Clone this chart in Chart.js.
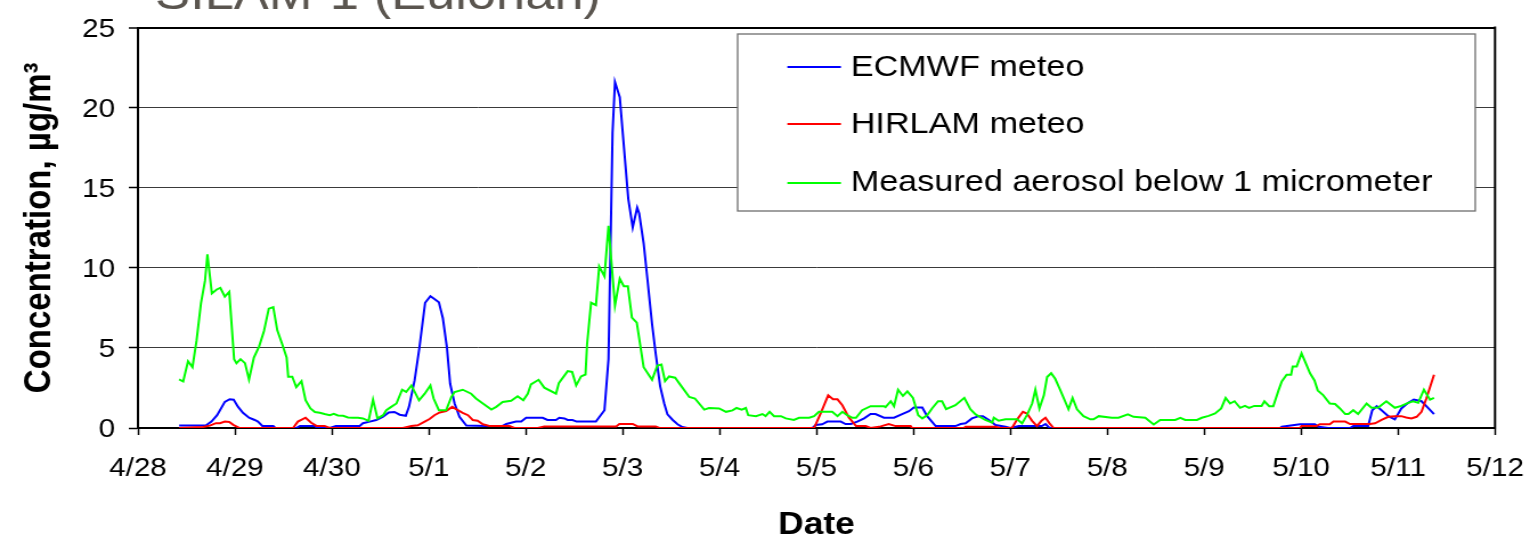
<!DOCTYPE html>
<html><head><meta charset="utf-8">
<script src="https://cdn.jsdelivr.net/npm/chart.js@4.4.1/dist/chart.umd.min.js"></script>
<style>
html,body{margin:0;padding:0;background:#fff;overflow:hidden}
#c{display:block;width:1530px !important;height:541px !important}
</style>
</head><body>
<canvas id="c" width="1342" height="541" style="width:1530px;height:541px"></canvas>
<script>
// ---- data (x = hours since 4/28 00:00, y = concentration µg/m3) ----
const dateLabels = ['4/28','4/29','4/30','5/1','5/2','5/3','5/4','5/5','5/6','5/7','5/8','5/9','5/10','5/11','5/12'];
const yTickValues = [0,5,10,15,20,25];
const seriesNames = ['ECMWF meteo','HIRLAM meteo','Measured aerosol below 1 micrometer'];
const chartTitle = 'SILAM-1 (Eulohan)';

const ecmwf = [[10.2,0.15],[16.8,0.15],[18.2,0.4],[19.6,0.8],[21.5,1.63],[22.7,1.8],[23.7,1.77],[24.8,1.32],[26.0,0.95],[27.5,0.64],[28.9,0.5],[29.7,0.4],[30.8,0.13],[33.5,0.13],[34.0,0],[39.2,0],[40.1,0.13],[43.8,0.13],[44.3,0],[47.5,0],[49.0,0.13],[54.9,0.13],[55.7,0.3],[57.4,0.4],[59.0,0.5],[60.7,0.7],[62.1,0.97],[63.5,1.0],[64.8,0.83],[66.3,0.76],[67.1,1.32],[68.5,2.97],[69.7,5.03],[71.1,7.82],[72.4,8.23],[73.4,8.06],[74.5,7.85],[75.5,6.85],[76.5,5.03],[77.3,2.76],[78.4,1.53],[79.6,0.7],[81.3,0.15],[86.2,0.13],[90.3,0.13],[91.2,0.25],[93.6,0.4],[94.9,0.4],[96.1,0.64],[100.2,0.64],[101.4,0.5],[103.5,0.5],[104.3,0.64],[105.6,0.6],[106.4,0.5],[107.6,0.5],[108.6,0.4],[113.4,0.4],[115.5,1.11],[116.5,4.31],[117.5,18.44],[118.1,21.6],[119.3,20.65],[120.2,17.93],[121.4,14.31],[122.5,12.52],[123.6,13.76],[124.1,13.39],[125.2,11.53],[126.2,9.16],[127.3,6.48],[128.2,4.62],[129.3,2.6],[130.3,1.53],[131.1,0.85],[132.4,0.5],[133.6,0.23],[134.8,0.06],[136.0,0],[167.0,0],[167.8,0.19],[169.4,0.23],[170.7,0.4],[174.0,0.4],[175.2,0.25],[176.5,0.25],[178.1,0.4],[179.8,0.6],[181.4,0.87],[182.6,0.87],[184.7,0.64],[187.2,0.64],[189.2,0.87],[190.9,1.05],[192.1,1.28],[194.2,1.28],[195.4,0.74],[197.5,0.12],[202.4,0.12],[203.7,0.25],[204.9,0.29],[206.5,0.6],[208.2,0.74],[209.2,0.74],[210.7,0.5],[212.3,0.19],[214.8,0.08],[216.0,0],[218.1,0.12],[223.8,0.12],[224.7,0.25],[225.7,0],[282.8,0],[283.2,0.08],[287.7,0.23],[291.4,0.23],[292.3,0.08],[294.7,0],[300.1,0],[300.9,0.12],[304.6,0.12],[305.6,1.11],[306.7,1.36],[307.9,1.11],[309.6,0.74],[311.2,0.54],[312.8,1.22],[314.5,1.57],[315.9,1.77],[317.8,1.67],[319.0,1.36],[320.9,0.87]];

const hirlam = [[10.2,0],[16.1,0.06],[17.8,0.15],[19.3,0.3],[20.3,0.3],[21.5,0.4],[22.6,0.38],[23.6,0.2],[25.2,0],[38.4,0],[39.6,0.4],[41.5,0.64],[42.9,0.33],[44.2,0.13],[46.2,0.13],[47.5,0],[65.6,0],[67.7,0.13],[69.3,0.17],[71.0,0.4],[72.2,0.56],[73.4,0.8],[74.7,0.97],[76.3,1.05],[77.8,1.32],[79.2,1.11],[80.4,0.95],[81.7,0.8],[82.9,0.5],[84.1,0.45],[85.4,0.23],[87.0,0.13],[92.0,0.13],[93.2,0],[99.0,0],[100.6,0.1],[118.4,0.1],[119.2,0.25],[122.5,0.25],[123.7,0.1],[128.2,0.1],[129.1,0],[167.4,0],[169.0,0.9],[170.9,2.04],[172.1,1.79],[173.2,1.79],[174.4,1.42],[176.0,0.66],[177.8,0.12],[180.2,0.12],[181.4,0],[183.9,0.1],[185.9,0.25],[187.6,0.12],[191.3,0.12],[191.7,0],[204.5,0],[204.9,0.08],[212.3,0.08],[213.5,0],[216.4,0],[217.7,0.54],[219.1,1.01],[220.1,0.9],[221.4,0.45],[222.6,0.12],[223.7,0.45],[224.7,0.64],[225.7,0.29],[226.7,0],[287.7,0],[288.1,0.12],[291.7,0.12],[292.6,0.23],[295.1,0.23],[296.0,0.4],[298.9,0.4],[300.1,0.25],[305.0,0.25],[306.3,0.29],[307.9,0.5],[309.6,0.7],[311.2,0.74],[312.8,0.74],[314.0,0.66],[315.3,0.6],[316.6,0.7],[317.8,1.01],[319.0,1.84],[320.9,3.32]];

const measured = [[10.2,3.03],[11.2,2.9],[12.4,4.17],[13.5,3.8],[14.5,5.45],[15.6,7.8],[16.6,9.2],[17.2,10.85],[18.3,8.4],[19.5,8.65],[20.4,8.75],[21.5,8.2],[22.6,8.5],[23.8,4.3],[24.4,4.05],[25.4,4.3],[26.5,4.05],[27.5,3.03],[28.7,4.4],[30.0,5.1],[31.2,6.06],[32.4,7.45],[33.5,7.55],[34.5,6.1],[35.7,5.24],[36.8,4.4],[37.2,3.2],[38.2,3.2],[39.2,2.55],[40.5,2.93],[41.5,1.73],[42.7,1.22],[43.8,1.0],[45.0,0.95],[46.2,0.87],[47.5,0.8],[48.5,0.88],[49.5,0.78],[50.8,0.76],[52.0,0.66],[53.2,0.64],[54.5,0.64],[55.7,0.6],[57.1,0.45],[58.2,1.77],[59.3,0.6],[60.7,0.8],[61.5,1.11],[62.7,1.32],[64.0,1.53],[65.4,2.39],[66.4,2.25],[67.7,2.66],[69.6,1.73],[71.0,2.14],[72.4,2.66],[73.2,1.84],[74.5,1.11],[76.3,1.11],[77.6,1.94],[78.4,2.25],[80.4,2.39],[82.5,2.14],[83.7,1.84],[85.4,1.53],[87.5,1.15],[88.7,1.32],[90.3,1.63],[92.4,1.7],[94.0,1.98],[95.4,1.73],[96.5,2.14],[97.3,2.72],[99.2,3.01],[100.6,2.52],[103.5,2.14],[104.2,2.8],[106.4,3.55],[107.5,3.5],[108.5,2.66],[109.7,3.22],[110.8,3.34],[111.2,5.24],[112.2,7.82],[113.4,7.67],[114.2,10.09],[115.5,9.47],[116.5,12.62],[118.1,7.65],[119.3,9.32],[120.3,8.85],[121.3,8.85],[122.3,6.89],[123.5,6.58],[125.2,3.8],[127.3,3.01],[128.6,3.9],[129.6,3.96],[130.5,2.93],[131.5,3.22],[133.0,3.14],[134.4,2.66],[136.5,1.94],[137.9,1.84],[140.2,1.15],[141.4,1.25],[143.9,1.22],[145.6,1.01],[147.2,1.1],[148.2,1.25],[149.5,1.15],[150.5,1.25],[151.1,0.8],[153.0,0.74],[154.6,0.87],[155.4,0.74],[156.4,1.01],[157.5,0.74],[159.2,0.74],[160.4,0.6],[162.4,0.5],[163.7,0.64],[166.2,0.64],[167.4,0.74],[168.6,1.01],[171.9,1.01],[173.2,0.74],[174.4,1.01],[175.6,0.8],[176.9,0.64],[177.8,0.64],[179.3,1.11],[181.4,1.36],[184.7,1.36],[185.1,1.3],[186.4,1.67],[187.2,1.36],[188.2,2.39],[189.4,2.0],[190.5,2.29],[191.9,1.88],[193.2,0.8],[194.2,0.6],[195.4,0.8],[196.6,1.22],[198.1,1.67],[199.1,1.67],[200.1,1.17],[202.4,1.42],[204.6,1.88],[206.1,1.17],[207.4,0.85],[209.8,0.5],[211.5,0.33],[211.9,0.64],[213.1,0.45],[214.8,0.54],[217.7,0.54],[218.9,0.29],[220.1,0.8],[221.4,1.53],[222.2,2.39],[223.2,1.22],[224.3,2.04],[225.1,3.18],[226.1,3.42],[227.1,3.07],[228.4,2.35],[230.4,1.17],[231.4,1.88],[232.5,1.17],[234.1,0.74],[235.8,0.54],[236.6,0.54],[237.9,0.74],[241.1,0.64],[242.8,0.64],[245.1,0.85],[246.5,0.7],[249.4,0.64],[251.5,0.22],[253.1,0.5],[256.8,0.5],[258.1,0.64],[259.3,0.5],[262.2,0.5],[263.4,0.64],[265.1,0.76],[266.7,0.91],[268.2,1.22],[269.3,1.88],[270.4,1.53],[271.5,1.67],[272.9,1.26],[274.1,1.38],[275.1,1.26],[276.4,1.38],[278.2,1.38],[278.9,1.67],[280.1,1.36],[281.1,1.36],[282.4,2.35],[283.2,2.91],[284.4,3.32],[285.5,3.32],[285.9,3.84],[286.9,3.84],[288.1,4.66],[289.4,3.9],[290.2,3.42],[291.3,2.97],[292.1,2.35],[293.5,2.04],[295.1,1.53],[296.4,1.5],[297.6,1.22],[298.9,0.87],[299.7,0.87],[300.9,1.11],[302.1,0.87],[304.2,1.53],[305.4,1.26],[307.1,1.28],[309.1,1.67],[311.2,1.26],[312.8,1.38],[314.5,1.57],[315.7,1.67],[317.0,1.57],[318.4,2.39],[319.9,1.77],[320.9,1.88]];

// ---- chart ----
const FONT = "'Liberation Sans', Arial, sans-serif";
const seriesColors = ['#0000ff', '#ff0000', '#00ff00'];
const toXY = a => a.map(p => ({x: p[0], y: p[1]}));

const framePlugin = {
  id: 'frame',
  afterDraw(chart) {
    const ctx = chart.ctx, a = chart.chartArea;
    ctx.save();
    // right border of plot area
    ctx.strokeStyle = '#000'; ctx.lineWidth = 2;
    ctx.beginPath(); ctx.moveTo(a.right, a.top - 1); ctx.lineTo(a.right, a.bottom + 1); ctx.stroke();
    // legend box
    const lx = 647, ly = 34, lw = 647, lh = 177;
    ctx.fillStyle = '#fff'; ctx.fillRect(lx, ly, lw, lh);
    ctx.strokeStyle = '#6e6e6e'; ctx.lineWidth = 1.3; ctx.strokeRect(lx, ly, lw, lh);
    const rowsLine = [67, 124, 183], rowsText = [75.7, 133, 191.3];
    ctx.font = '30px ' + FONT; ctx.textBaseline = 'alphabetic'; ctx.textAlign = 'left';
    seriesNames.forEach((n, i) => {
      ctx.strokeStyle = seriesColors[i]; ctx.lineWidth = 2;
      ctx.beginPath(); ctx.moveTo(690.6, rowsLine[i]); ctx.lineTo(737.6, rowsLine[i]); ctx.stroke();
      ctx.fillStyle = '#000'; ctx.fillText(n, 746.2, rowsText[i]);
    });
    // title (partly above the picture)
    ctx.font = '46px ' + FONT; ctx.fillStyle = '#5a554f';
    ctx.fillText(chartTitle, 136, 9.3);
    ctx.restore();
  }
};

new Chart(document.getElementById('c'), {
  type: 'line',
  data: {
    datasets: [
      {label: seriesNames[0], data: toXY(ecmwf), borderColor: seriesColors[0], order: 3},
      {label: seriesNames[1], data: toXY(hirlam), borderColor: seriesColors[1], order: 2},
      {label: seriesNames[2], data: toXY(measured), borderColor: seriesColors[2], order: 1}
    ]
  },
  options: {
    responsive: false, animation: false, devicePixelRatio: 1, events: [],
    elements: {line: {borderWidth: 2, tension: 0, fill: false}, point: {radius: 0, hoverRadius: 0}},
    layout: {padding: {left: 0, right: 30.7, top: 24, bottom: 0}},
    plugins: {legend: {display: false}, tooltip: {enabled: false}, title: {display: false}},
    scales: {
      x: {
        type: 'linear', min: 0, max: (dateLabels.length - 1) * 24,
        afterFit: s => { s.height = 113; },
        border: {display: true, color: '#000', width: 2},
        grid: {drawOnChartArea: false, drawTicks: true, tickLength: 7, tickColor: '#000', tickWidth: 1.5},
        ticks: {stepSize: 24, autoSkip: false, maxRotation: 0, minRotation: 0, padding: 4, color: '#000',
                font: {family: FONT, size: 26, lineHeight: 2.27}, callback: v => dateLabels[Math.round(v / 24)]},
        title: {display: true, text: 'Date', color: '#000',
                font: {family: FONT, size: 31, weight: 'bold', lineHeight: 1}, padding: {top: 0, bottom: 0}}
      },
      y: {
        min: yTickValues[0], max: yTickValues[yTickValues.length - 1],
        afterFit: s => { s.width = 121; },
        afterBuildTicks: s => { s.ticks = yTickValues.map(v => ({value: v})); },
        border: {display: true, color: '#000', width: 2},
        grid: {
          color: c => (c.tick && c.tick.value === 25) ? '#000' : '#3a3a3a',
          lineWidth: c => (c.tick && c.tick.value === 25) ? 2 : 1,
          tickLength: 8, tickColor: '#000', tickWidth: 1.5
        },
        ticks: {padding: 12, labelOffset: 2, color: '#000', font: {family: FONT, size: 26}},
        title: {display: true, text: 'Concentration, µg/m³', color: '#000',
                font: {family: FONT, size: 33, weight: 'bold', lineHeight: 1}, padding: {top: 18, bottom: 0}}
      }
    }
  },
  plugins: [framePlugin]
});
</script>
</body></html>
